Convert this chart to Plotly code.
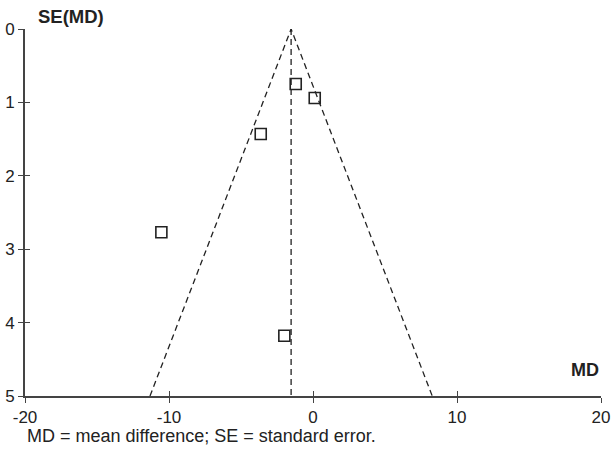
import plotly.graph_objects as go

# Study estimates
study_md = [-1.20, 0.12, -3.63, -10.53, -1.99]
study_se = [0.75, 0.94, 1.43, 2.77, 4.18]

# Pooled estimate and funnel extent
pooled_md = -1.52
se_max = 5.0
z = 1.96

x_ticks = [-20, -10, 0, 10, 20]
y_ticks = [0, 1, 2, 3, 4, 5]

FONT = "Liberation Sans, Arial, Helvetica, sans-serif"
INK = "#222222"
AXIS = "#444444"

fig = go.Figure()

# funnel (pseudo 95% confidence limits)
fig.add_trace(go.Scatter(
    x=[pooled_md - z * se_max, pooled_md, pooled_md + z * se_max],
    y=[se_max, 0, se_max],
    mode="lines",
    line=dict(color=INK, width=1.3, dash="6px,4px"),
    hoverinfo="skip", showlegend=False,
))
# vertical pooled line
fig.add_trace(go.Scatter(
    x=[pooled_md, pooled_md],
    y=[0, se_max],
    mode="lines",
    line=dict(color=INK, width=1.3, dash="6px,4px"),
    hoverinfo="skip", showlegend=False,
))
# studies
fig.add_trace(go.Scatter(
    x=study_md, y=study_se,
    mode="markers",
    marker=dict(symbol="square-open", size=11, color=INK, line=dict(width=1.6, color=INK)),
    showlegend=False,
))
# invisible trace for overlay axes (crossing ticks)
fig.add_trace(go.Scatter(x=[x_ticks[0]], y=[y_ticks[0]], xaxis="x2", yaxis="y2",
                         mode="markers", marker=dict(opacity=0), hoverinfo="skip",
                         showlegend=False))

fig.update_layout(
    width=611, height=460, autosize=False,
    margin=dict(l=25, r=10, t=29, b=64),
    paper_bgcolor="white", plot_bgcolor="white",
    font=dict(family=FONT, size=17, color=INK),
    xaxis=dict(
        range=[-20, 20], tickvals=x_ticks, ticktext=[str(v) for v in x_ticks],
        showgrid=False, zeroline=False, showline=True, linecolor=AXIS, linewidth=1.6,
        ticks="outside", ticklen=5, tickwidth=1.2, tickcolor=AXIS, automargin=False,
        tickfont=dict(size=17, family=FONT, color=INK), ticklabelstandoff=0,
    ),
    yaxis=dict(
        range=[5, 0], tickvals=y_ticks, ticktext=[str(v) for v in y_ticks],
        showgrid=False, zeroline=False, showline=True, linecolor=AXIS, linewidth=1.6,
        ticks="outside", ticklen=5, tickwidth=1.2, tickcolor=AXIS, automargin=False,
        tickfont=dict(size=17, family=FONT, color=INK), ticklabelstandoff=0,
    ),
    xaxis2=dict(
        overlaying="x", matches="x", range=[-20, 20], tickvals=x_ticks, automargin=False,
        showticklabels=False, showgrid=False, zeroline=False, showline=False,
        ticks="inside", ticklen=5, tickwidth=1.2, tickcolor=AXIS, side="bottom", anchor="y2",
    ),
    yaxis2=dict(
        overlaying="y", matches="y", range=[5, 0], tickvals=y_ticks, automargin=False,
        showticklabels=False, showgrid=False, zeroline=False, showline=False,
        ticks="inside", ticklen=5, tickwidth=1.2, tickcolor=AXIS, side="left", anchor="x2",
    ),
    annotations=[
        dict(text="<b>SE(MD)</b>", xref="paper", yref="paper", x=0.019, y=1.034,
             xanchor="left", yanchor="middle", showarrow=False,
             font=dict(size=18.5, family=FONT, color=INK)),
        dict(text="<b>MD</b>", xref="paper", yref="paper", x=1.0, y=0.071,
             xanchor="right", yanchor="middle", showarrow=False,
             font=dict(size=18, family=FONT, color=INK)),
        dict(text="MD = mean difference; SE = standard error.", xref="paper", yref="paper",
             x=0.0, y=-0.109, xanchor="left", yanchor="middle", showarrow=False,
             font=dict(size=18, family=FONT, color=INK)),
    ],
)

# remove the default 8px page margin so the figure fills the window exactly
fig.write_html(
    "out.html",
    config={"displayModeBar": False},
    post_script="document.body.style.margin='0px';document.body.style.overflow='hidden';",
)
